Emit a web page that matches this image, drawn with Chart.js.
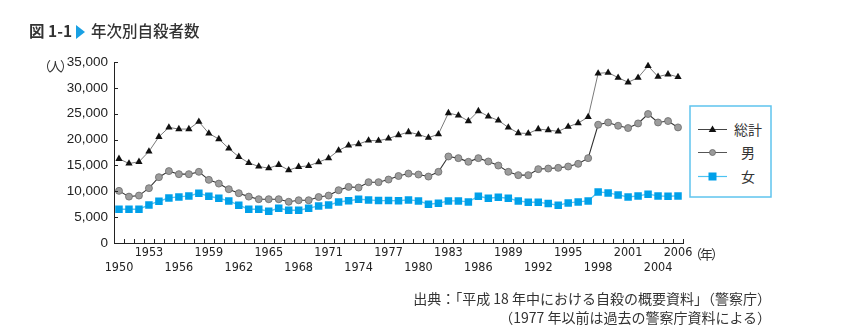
<!DOCTYPE html>
<html lang="ja">
<head>
<meta charset="utf-8">
<script src="https://cdn.jsdelivr.net/npm/chart.js@4"></script>
<style>
    body { margin: 0; width: 846px; height: 336px; background: #fff; position: relative; overflow: hidden;
           font-family: "Noto Sans CJK JP", "Noto Sans", sans-serif; color: #333; }
    #wrap { position: absolute; left: 0; top: 0; width: 846px; height: 336px; }
    .title { position: absolute; left: 29px; top: 20px; font-size: 15.5px; line-height: 20px; white-space: nowrap; font-weight: 500; }
    .title b { font-weight: 700; }
    .title .tri { display: inline-block; width: 0; height: 0; border-left: 9px solid #19a0e3;
                  border-top: 7px solid transparent; border-bottom: 7px solid transparent; margin: 0 6px 0 4px; vertical-align: -2px; }
    .unit { position: absolute; left: 38px; top: 57px; font-size: 13px; line-height: 18px; letter-spacing: -2px; }
    .yearUnit { position: absolute; left: 689px; top: 245px; font-size: 13px; line-height: 18px; letter-spacing: -2px; }
    .source { position: absolute; right: 75px; top: 289px; font-size: 14px; line-height: 19px; text-align: right; white-space: nowrap; }
    .legend { position: absolute; left: 689px; top: 105px; }
</style>
</head>
<body>
<div id="wrap"><canvas id="chart"></canvas></div>
<div class="title"><b>図 1-1</b><span class="tri"></span>年次別自殺者数</div>
<div class="unit">（人）</div>
<div class="yearUnit">（年）</div>
<svg class="legend" width="84" height="94">
    <rect x="1" y="1" width="81" height="91" fill="#fff" stroke="#5fc4ee" stroke-width="1.5"/>
    <line x1="9" y1="24.5" x2="38" y2="24.5" stroke="#444" stroke-width="1"/>
    <polygon points="23.5,20.5 27.3,27 19.7,27" fill="#111"/>
    <line x1="9" y1="47.5" x2="38" y2="47.5" stroke="#555" stroke-width="1"/>
    <circle cx="23.5" cy="47.5" r="3" fill="#9a9a9a" stroke="#666" stroke-width="0.8"/>
    <line x1="9" y1="71.5" x2="38" y2="71.5" stroke="#4cc3f2" stroke-width="1.2"/>
    <rect x="19.5" y="67.5" width="8" height="8" fill="#00a0e9"/>
    <text x="59" y="29.5" font-size="14" text-anchor="middle" fill="#333">総計</text>
    <text x="59" y="52.5" font-size="14" text-anchor="middle" fill="#333">男</text>
    <text x="59" y="76.5" font-size="14" text-anchor="middle" fill="#333">女</text>
</svg>
<div class="source">出典：「平成 18 年中における自殺の概要資料」（警察庁）<br>（1977 年以前は過去の警察庁資料による）</div>
<script>
const years = [1950, 1951, 1952, 1953, 1954, 1955, 1956, 1957, 1958, 1959,
               1960, 1961, 1962, 1963, 1964, 1965, 1966, 1967, 1968, 1969,
               1970, 1971, 1972, 1973, 1974, 1975, 1976, 1977, 1978, 1979,
               1980, 1981, 1982, 1983, 1984, 1985, 1986, 1987, 1988, 1989,
               1990, 1991, 1992, 1993, 1994, 1995, 1996, 1997, 1998, 1999,
               2000, 2001, 2002, 2003, 2004, 2005, 2006];

const upperLabels = [1953, 1959, 1965, 1971, 1977, 1983, 1989, 1995, 2001, 2006];
const lowerLabels = [1950, 1956, 1962, 1968, 1974, 1980, 1986, 1992, 1998, 2004];
const yTicks = [0, 5000, 10000, 15000, 20000, 25000, 30000, 35000];

// 総計
const total = [16280, 15370, 15700, 17700, 20540, 22350, 22030, 22030, 23450, 21190,
               20100, 18280, 16670, 15500, 14790, 14470, 15120, 14090, 14730, 14920,
               15640, 16410, 17900, 18860, 19130, 19830, 19770, 20210, 20870, 21450,
               20990, 20350, 21060, 25130, 24680, 23580, 25520, 24480, 23700, 22350,
               21260, 21180, 22030, 21840, 21580, 22480, 23190, 24360, 32810, 32950,
               31980, 31070, 31980, 34240, 32170, 32620, 32110];
// 男
const male = [10080, 8970, 9170, 10600, 12730, 13900, 13310, 13310, 13760, 12210,
              11490, 10400, 9630, 8970, 8470, 8470, 8470, 7970, 8270, 8270,
              8890, 9170, 10210, 10850, 10720, 11760, 11760, 12270, 12950, 13430,
              13240, 12850, 13760, 16730, 16410, 15700, 16410, 15760, 14980, 13760,
              13120, 13120, 14280, 14400, 14530, 14790, 15310, 16410, 22870, 23310,
              22670, 22230, 23120, 24940, 23310, 23580, 22350];
// 女
const female = [6530, 6530, 6530, 7360, 8080, 8720, 8910, 9110, 9630, 9050,
                8660, 8140, 7310, 6530, 6530, 6140, 6720, 6340, 6340, 6720,
                7170, 7330, 7920, 8170, 8470, 8330, 8200, 8200, 8170, 8330,
                8140, 7500, 7690, 8140, 8140, 7950, 9050, 8660, 8860, 8660,
                8140, 7890, 7890, 7620, 7300, 7750, 7950, 8140, 9880, 9690,
                9300, 8910, 9110, 9440, 9110, 9050, 9110];

// short tick marks pointing into the plot area
const innerTicks = {
    id: 'innerTicks',
    afterDraw(chart) {
        const { ctx, scales: { x, y }, chartArea } = chart;
        ctx.save();
        ctx.strokeStyle = '#222';
        ctx.lineWidth = 1;
        ctx.beginPath();
        for (let i = 0; i <= years.length; i++) {
            const px = Math.round(x.getPixelForValue(i - 0.5)) + 0.5;
            ctx.moveTo(px, chartArea.bottom);
            ctx.lineTo(px, chartArea.bottom - 4);
        }
        yTicks.forEach(v => {
            const py = Math.round(y.getPixelForValue(v)) + 0.5;
            ctx.moveTo(chartArea.left, py);
            ctx.lineTo(chartArea.left + 4, py);
        });
        ctx.stroke();
        ctx.restore();
    }
};

new Chart(document.getElementById('chart'), {
    type: 'line',
    data: {
        labels: years,
        datasets: [
            {
                label: '総計', data: total,
                borderColor: '#7a7a7a', borderWidth: 1,
                pointStyle: 'triangle', pointRadius: 4.2,
                pointBackgroundColor: '#111', pointBorderColor: '#111', pointBorderWidth: 0
            },
            {
                label: '男', data: male,
                borderColor: '#333', borderWidth: 1.1,
                pointStyle: 'circle', pointRadius: 3.5,
                pointBackgroundColor: '#9c9c9c', pointBorderColor: '#6a6a6a', pointBorderWidth: 0.8
            },
            {
                label: '女', data: female,
                borderColor: '#55c6f2', borderWidth: 1.4,
                pointStyle: 'rect', pointRadius: 5.3,
                pointBackgroundColor: '#00a0e9', pointBorderColor: '#00a0e9', pointBorderWidth: 0
            }
        ]
    },
    options: {
        responsive: true,
        maintainAspectRatio: false,
        animation: false,
        layout: { padding: { left: 0, top: 62, right: 163, bottom: 0 } },
        plugins: { legend: { display: false }, tooltip: { enabled: false } },
        scales: {
            x: {
                offset: true,
                grid: { display: false, drawTicks: false, offset: true },
                border: { display: true, color: '#222', width: 1 },
                afterFit(scale) { scale.height = 93; },
                ticks: {
                    autoSkip: false, maxRotation: 0, padding: 3,
                    color: '#222',
                    font: { family: "'Liberation Sans Narrow', 'Arial Narrow', 'DejaVu Sans Condensed', 'Liberation Sans', sans-serif", size: 12.5, lineHeight: 1.15 },
                    callback(value, index) {
                        const yr = years[index];
                        if (upperLabels.includes(yr)) return [String(yr), ''];
                        if (lowerLabels.includes(yr)) return ['', String(yr)];
                        return '';
                    }
                }
            },
            y: {
                min: 0, max: 35000,
                grid: { display: false, drawTicks: false },
                border: { display: true, color: '#222', width: 1 },
                afterFit(scale) { scale.width = 114; },
                afterBuildTicks(scale) { scale.ticks = yTicks.map(v => ({ value: v })); },
                ticks: {
                    padding: 6, color: '#222',
                    font: { family: "'Liberation Sans', sans-serif", size: 13.5 },
                    callback: v => v.toLocaleString('en-US')
                }
            }
        }
    },
    plugins: [innerTicks]
});
</script>
</body>
</html>
